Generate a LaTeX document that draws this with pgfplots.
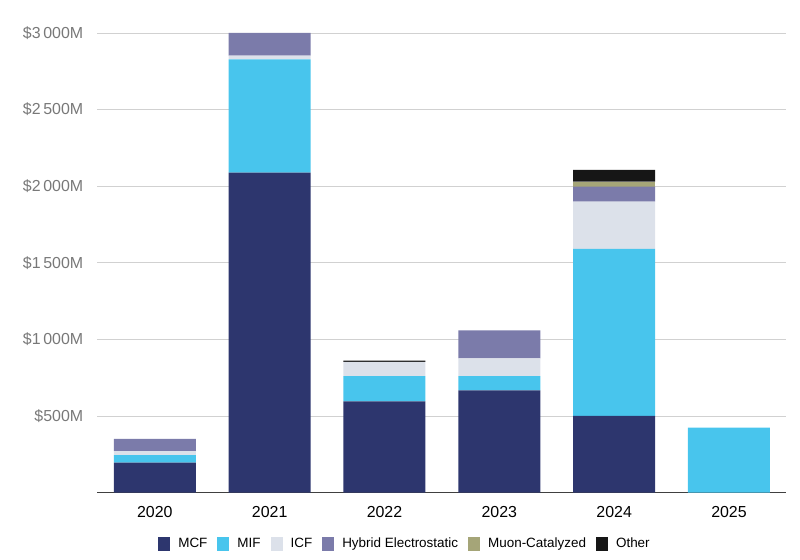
\documentclass[border=0pt]{standalone}
\usepackage{fontspec}
\setmainfont{Liberation Sans}
\usepackage{pgfplots}
\usepackage{pgfplotstable}
\pgfplotsset{compat=1.18}

\definecolor{mcf}{RGB}{45,54,110}
\definecolor{mif}{RGB}{72,197,237}
\definecolor{icf}{RGB}{220,225,234}
\definecolor{hyb}{RGB}{123,123,170}
\definecolor{muon}{RGB}{165,165,120}
\definecolor{oth}{RGB}{22,22,22}
\definecolor{ticktxt}{RGB}{120,120,120}

% Private fusion funding by approach, millions of USD
\pgfplotstableread{
x year MCF  MIF  ICF Hybrid Muon Other
0 2020 196  50   26  80     0    0
1 2021 2088 740  25  147    0    0
2 2022 596  164  94  0      0    8
3 2023 668  92   116 183    0    0
4 2024 502  1089 308 98     33   77
5 2025 0    425  0   0      0    0
}\funding

\begin{document}
\begin{tikzpicture}
\useasboundingbox (0,0) rectangle (800bp,560bp);
\begin{axis}[
  at={(97.4bp,67.3bp)}, anchor=south west,
  scale only axis, width=689bp, height=459.7bp,
  ybar stacked, bar width=82bp,
  xmin=-0.5, xmax=5.5, ymin=0, ymax=3000,
  clip=false,
  axis x line*=bottom, axis y line*=left,
  y axis line style={draw=none},
  x axis line style={draw=black!75, line width=0.9bp},
  major tick length=0pt,
  xtick={0,...,5},
  xticklabels={2020,2021,2022,2023,2024,2025},
  ytick={500,1000,1500,2000,2500,3000},
  yticklabels={\$500M,\$1\,000M,\$1\,500M,\$2\,000M,\$2\,500M,\$3\,000M},
  ymajorgrids,
  grid style={draw=black!18, line width=0.8bp},
  yticklabel style={font=\fontsize{16}{18}\selectfont, text=ticktxt, anchor=east, inner sep=0pt, xshift=-14bp},
  xticklabel style={font=\fontsize{16}{18}\selectfont, text=black, anchor=center, inner sep=0pt, yshift=-19bp},
  every axis plot/.append style={draw=none},
  legend columns=6,
  legend style={
    draw=none, fill=none,
    at={(0.445,-0.1116)}, anchor=center,
    font=\fontsize{13.5}{16}\selectfont,
    nodes={inner sep=0pt},
    /tikz/every even column/.append style={column sep=10bp},
    /tikz/every odd column/.append style={column sep=8bp},
    inner sep=0pt,
  },
  legend cell align=left,
  legend image code/.code={\fill[#1] (0bp,-7bp) rectangle (12bp,6.5bp);},
]
\addplot[fill=mcf]  table[x=x,y=MCF]    {\funding};
\addplot[fill=mif]  table[x=x,y=MIF]    {\funding};
\addplot[fill=icf]  table[x=x,y=ICF]    {\funding};
\addplot[fill=hyb]  table[x=x,y=Hybrid] {\funding};
\addplot[fill=muon] table[x=x,y=Muon]   {\funding};
\addplot[fill=oth]  table[x=x,y=Other]  {\funding};
\legend{MCF,MIF,ICF,Hybrid Electrostatic,Muon-Catalyzed,Other}
\end{axis}
\end{tikzpicture}
\end{document}
